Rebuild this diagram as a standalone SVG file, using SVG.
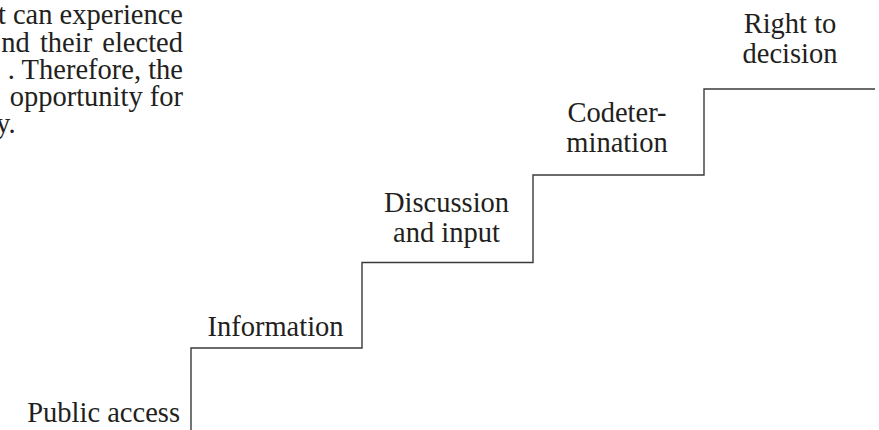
<svg xmlns="http://www.w3.org/2000/svg" width="879" height="430" viewBox="0 0 879 430">
<style>
text{font-family:"Liberation Serif","Times New Roman",serif;font-size:28.5px;fill:#231f20}
.m{text-anchor:middle}
.e{text-anchor:end}
.stair{fill:none;stroke:#3a3a3a;stroke-width:1.4}
</style>
<rect width="879" height="430" fill="#fff"/>
<g id="paragraph">
<text class="e" x="183" y="24">t can experience</text>
<text class="e" x="183" y="51.5" word-spacing="3">nd their elected</text>
<text class="e" x="183" y="79">. Therefore, the</text>
<text class="e" x="183" y="106">opportunity for</text>
<text x="-4" y="133">y.</text>
</g>
<g id="connectors">
<path class="stair" d="M191,430 V348 H362 V262.5 H533 V175 H704 V89 H875"/>
</g>
<g id="public-access"><text class="e" x="180" y="422">Public access</text></g>
<g id="information"><text class="m" x="275.5" y="335.7">Information</text></g>
<g id="discussion"><text class="m" x="446.5" y="211.7">Discussion</text><text class="m" x="446.5" y="241.7">and input</text></g>
<g id="codetermination"><text class="m" x="617" y="121.7">Codeter-</text><text class="m" x="617" y="151.7">mination</text></g>
<g id="right-to-decision"><text class="m" x="790" y="33.3">Right to</text><text class="m" x="790" y="63.3">decision</text></g>
</svg>
